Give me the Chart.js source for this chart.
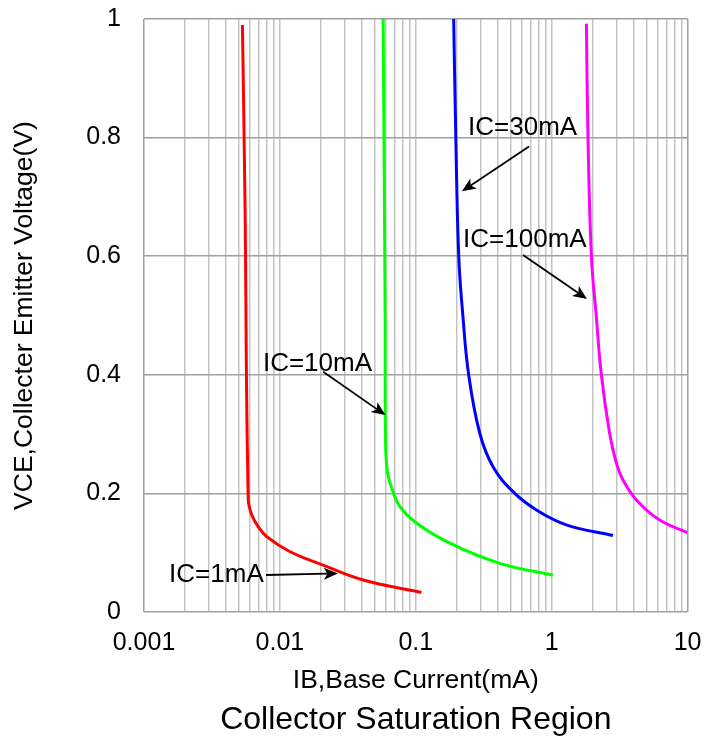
<!DOCTYPE html>
<html><head><meta charset="utf-8">
<script src="https://cdn.jsdelivr.net/npm/chart.js@4.4.1/dist/chart.umd.min.js"></script>
<style>html,body{margin:0;padding:0;background:#fff;}#wrap{width:720px;height:749px;}</style>
</head><body><div id="wrap"><canvas id="c" width="720" height="749"></canvas></div>
<script>
// ---- Data ----
const ic1mA_IB   = [0.0053, 0.00553, 0.00585, 0.0062, 0.00692, 0.008, 0.0118, 0.0208, 0.041, 0.11];
const ic1mA_VCE  = [0.99, 0.70, 0.19, 0.164, 0.144, 0.127, 0.102, 0.079, 0.054, 0.033];
const ic10mA_IB  = [0.0575, 0.0595, 0.0598, 0.0615, 0.0663, 0.0763, 0.101, 0.178, 0.415, 1.02];
const ic10mA_VCE = [1.0, 0.5, 0.30, 0.24, 0.21, 0.178, 0.15, 0.116, 0.082, 0.062];
const ic30mA_IB  = [0.190, 0.197, 0.207, 0.222, 0.245, 0.296, 0.37, 0.519, 0.772, 1.28, 2.82];
const ic30mA_VCE = [1.0, 0.8, 0.6, 0.5, 0.4, 0.301, 0.245, 0.203, 0.172, 0.147, 0.129];
const ic100mA_IB = [1.80, 1.85, 1.96, 2.13, 2.32, 2.67, 2.99, 3.34, 4.20, 6.23, 9.95];
const ic100mA_VCE= [0.992, 0.80, 0.60, 0.498, 0.40, 0.301, 0.251, 0.223, 0.189, 0.155, 0.134];

const seriesNames = ['IC=1mA', 'IC=10mA', 'IC=30mA', 'IC=100mA'];

// axis ticks
const xGridValues = [0.001,0.002,0.003,0.004,0.005,0.006,0.007,0.008,0.009,
                     0.01,0.02,0.03,0.04,0.05,0.06,0.07,0.08,0.09,
                     0.1,0.2,0.3,0.4,0.5,0.6,0.7,0.8,0.9,
                     1,2,3,4,5,6,7,8,9,10];
const xLabelValues = [0.001, 0.01, 0.1, 1, 10];
const xLabelTexts  = ['0.001', '0.01', '0.1', '1', '10'];
const yTickValues  = [0, 0.2, 0.4, 0.6, 0.8, 1];
const yTickLabels  = ['0', '0.2', '0.4', '0.6', '0.8', '1'];

// annotations (data coordinates)
const annotLabels   = ['IC=1mA', 'IC=10mA', 'IC=30mA', 'IC=100mA'];
const annotTextIB   = [0.00153, 0.0075, 0.2424, 0.2228];
const annotTextVCE  = [0.0624, 0.419, 0.816, 0.627];
const arrowFromIB   = [0.0079, 0.0208, 0.681, 0.615];
const arrowFromVCE  = [0.0624, 0.405, 0.785, 0.602];
const arrowToIB     = [0.0267, 0.0598, 0.2186, 1.818];
const arrowToVCE    = [0.065, 0.332, 0.7096, 0.528];

const FONT = '"Liberation Sans", Arial, Helvetica, sans-serif';

function pts(xs, ys) { return xs.map((v, i) => ({x: v, y: ys[i]})); }

const colors = ['#ff0000', '#00ff00', '#0000ff', '#ff00ff'];
const seriesX = [ic1mA_IB, ic10mA_IB, ic30mA_IB, ic100mA_IB];
const seriesY = [ic1mA_VCE, ic10mA_VCE, ic30mA_VCE, ic100mA_VCE];

const datasets = seriesNames.map((n, i) => ({
  label: n,
  data: pts(seriesX[i], seriesY[i]),
  borderColor: colors[i],
  backgroundColor: colors[i],
  borderWidth: 3,
  pointRadius: 0,
  fill: false,
  tension: 0.4
}));

const annotPlugin = {
  id: 'annot',
  afterDatasetsDraw(chart) {
    const {ctx} = chart;
    const xs = chart.scales.x, ys = chart.scales.y;
    ctx.save();
    ctx.font = '26px ' + FONT;
    ctx.fillStyle = '#000';
    ctx.strokeStyle = '#000';
    ctx.textBaseline = 'middle';
    ctx.textAlign = 'left';
    for (let i = 0; i < annotLabels.length; i++) {
      ctx.fillText(annotLabels[i], xs.getPixelForValue(annotTextIB[i]), ys.getPixelForValue(annotTextVCE[i]));
      const x1 = xs.getPixelForValue(arrowFromIB[i]), y1 = ys.getPixelForValue(arrowFromVCE[i]);
      const x2 = xs.getPixelForValue(arrowToIB[i]), y2 = ys.getPixelForValue(arrowToVCE[i]);
      const ang = Math.atan2(y2 - y1, x2 - x1);
      const hl = 14, hw = 6;
      const bx = x2 - Math.cos(ang) * hl * 0.75, by = y2 - Math.sin(ang) * hl * 0.75;
      ctx.lineWidth = 1.8;
      ctx.beginPath(); ctx.moveTo(x1, y1); ctx.lineTo(bx, by); ctx.stroke();
      const px = -Math.sin(ang), py = Math.cos(ang);
      const cx = x2 - Math.cos(ang) * hl, cy = y2 - Math.sin(ang) * hl;
      ctx.beginPath();
      ctx.moveTo(x2, y2);
      ctx.lineTo(cx + px * hw, cy + py * hw);
      ctx.lineTo(bx, by);
      ctx.lineTo(cx - px * hw, cy - py * hw);
      ctx.closePath();
      ctx.fill();
    }
    ctx.restore();
  }
};

new Chart(document.getElementById('c'), {
  type: 'line',
  data: { datasets },
  plugins: [annotPlugin],
  options: {
    responsive: false,
    animation: false,
    devicePixelRatio: 1,
    layout: { padding: { top: 19, right: 32, left: 0, bottom: 0 } },
    plugins: {
      legend: { display: false },
      tooltip: { enabled: false },
      title: {
        display: true,
        text: 'Collector Saturation Region',
        position: 'bottom',
        fullSize: false,
        color: '#000',
        font: { family: FONT, size: 32, weight: 'normal', lineHeight: 1 },
        padding: { top: 10, bottom: 13 }
      }
    },
    scales: {
      x: {
        type: 'logarithmic',
        position: 'bottom',
        min: 0.001, max: 10,
        afterBuildTicks: s => { s.ticks = xGridValues.map(v => ({ value: v })); },
        afterFit: s => { s.height = 82; },
        border: { display: false },
        grid: {
          drawTicks: false,
          lineWidth: 1.5,
          color: c => (c.tick && (c.tick.value === 0.001 || c.tick.value === 10)) ? '#a0a0a0' : '#c4c4c4'
        },
        ticks: {
          autoSkip: false, maxRotation: 0, minRotation: 0,
          padding: 18.5,
          color: '#000',
          font: { family: FONT, size: 25, lineHeight: 1 },
          callback: v => { const k = xLabelValues.indexOf(v); return k >= 0 ? xLabelTexts[k] : ''; }
        },
        title: {
          display: true, text: 'IB,Base Current(mA)', color: '#000',
          font: { family: FONT, size: 26.5, lineHeight: 1 },
          padding: { top: 0, bottom: 0 }
        }
      },
      y: {
        type: 'linear',
        position: 'left',
        min: 0, max: 1,
        afterBuildTicks: s => { s.ticks = yTickValues.map(v => ({ value: v })); },
        afterFit: s => { s.width = 144; s.paddingTop = 0; s.paddingBottom = 0; },
        border: { display: false },
        grid: { drawTicks: false, lineWidth: 1.5, color: '#a0a0a0' },
        ticks: {
          padding: 23,
          color: '#000',
          font: { family: FONT, size: 25, lineHeight: 1 },
          callback: (v) => { const k = yTickValues.indexOf(v); return k >= 0 ? yTickLabels[k] : ''; }
        },
        title: {
          display: true, text: 'VCE,Collecter Emitter Voltage(V)', color: '#000',
          font: { family: FONT, size: 26.5, lineHeight: 1 },
          padding: { top: 11.5, bottom: 0 }
        }
      }
    }
  }
});
</script></body></html>
